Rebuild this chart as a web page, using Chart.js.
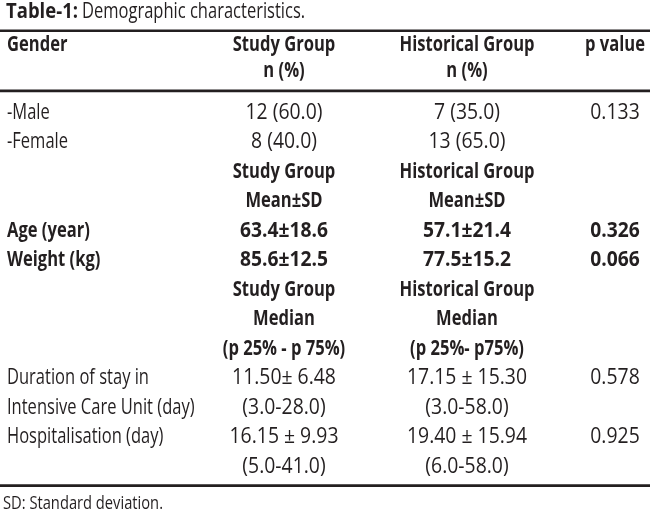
<!DOCTYPE html>
<html>
<head>
<meta charset="utf-8">
<script src="https://cdn.jsdelivr.net/npm/chart.js@4/dist/chart.umd.min.js"></script>
<style>
  html, body { margin: 0; padding: 0; background: #fff; }
  #wrap { width: 650px; height: 518px; }
</style>
</head>
<body>
<div id="wrap"><canvas id="c" width="650" height="518"></canvas></div>
<script>
// ---- Data ----
const titleBold = 'Table-1:';
const titleText = 'Demographic characteristics.';
const footnote = 'SD: Standard deviation.';
const headerRow1 = ['Gender', 'Study Group', 'Historical Group', 'p value'];
const headerRow2 = ['', 'n (%)', 'n (%)', ''];
const rowLabels = ['-Male', '-Female', '', '', 'Age (year)', 'Weight (kg)', '', '', '',
  'Duration of stay in', 'Intensive Care Unit (day)', 'Hospitalisation (day)', ''];
const studyGroup = ['12 (60.0)', '8 (40.0)', 'Study Group', 'Mean\u00B1SD', '63.4\u00B118.6', '85.6\u00B112.5',
  'Study Group', 'Median', '(p 25% - p 75%)', '11.50\u00B1 6.48', '(3.0-28.0)', '16.15 \u00B1 9.93', '(5.0-41.0)'];
const historicalGroup = ['7 (35.0)', '13 (65.0)', 'Historical Group', 'Mean\u00B1SD', '57.1\u00B121.4', '77.5\u00B115.2',
  'Historical Group', 'Median', '(p 25%- p75%)', '17.15 \u00B1 15.30', '(3.0-58.0)', '19.40 \u00B1 15.94', '(6.0-58.0)'];
const pValues = ['0.133', '', '', '', '0.326', '0.066', '', '', '', '0.578', '', '0.925', ''];
const boldRows = [2, 3, 4, 5, 6, 7, 8];

// ---- Layout (kept out of data) ----
const FAMILY = '"Open Sans", "Noto Sans", sans-serif';
const REG = '21px ' + FAMILY;
const BOLD = 'bold 21px ' + FAMILY;
const FOOT = '18px ' + FAMILY;
const INK = '#231f20';
const colAnchors = [7, 284, 467, 615];
const colAlign = ['left', 'center', 'center', 'center'];
const rowPos = { title: -3.42, rule1: -2.78, head1: -2.3, head2: -1.42, rule2: -0.74, rule3: 12.64, foot: 13.25 };
const isNumeric = s => /^[\d(][\d.() \u00B1%-]*$/.test(s);

function txt(ctx, s, x, y, align, font, sx) {
  ctx.save();
  ctx.font = font;
  ctx.textAlign = align;
  ctx.textBaseline = 'middle';
  ctx.translate(x, y);
  ctx.scale(sx, 1);
  ctx.fillText(s, 0, 0);
  ctx.restore();
}
function widthOf(ctx, s, font) { ctx.save(); ctx.font = font; const w = ctx.measureText(s).width; ctx.restore(); return w; }

const tablePlugin = {
  id: 'tablePlugin',
  afterDraw(chart) {
    const ctx = chart.ctx;
    const xs = chart.scales.x, ys = chart.scales.y;
    const X = v => xs.getPixelForValue(v);
    const Y = v => ys.getPixelForValue(v);
    // condensed look: horizontal compression matched to the reference face
    const sxR = 142 / widthOf(ctx, 'Duration of stay in', REG);
    const sxB = 135 / widthOf(ctx, 'Historical Group', BOLD);
    const sxRN = 77 / widthOf(ctx, '12 (60.0)', REG);
    const sxBN = 88 / widthOf(ctx, '63.4\u00B118.6', BOLD);
    const sxF = 160 / widthOf(ctx, footnote, FOOT);
    ctx.save();
    ctx.fillStyle = INK;

    // title
    const tb = 72 / widthOf(ctx, titleBold, BOLD);
    txt(ctx, titleBold, X(6), Y(rowPos.title), 'left', BOLD, tb);
    txt(ctx, titleText, X(82), Y(rowPos.title), 'left', REG, sxR);

    // rules
    ctx.strokeStyle = INK;
    [rowPos.rule1, rowPos.rule2, rowPos.rule3].forEach(r => {
      ctx.lineWidth = 2.6;
      ctx.beginPath();
      ctx.moveTo(X(0), Y(r));
      ctx.lineTo(X(650), Y(r));
      ctx.stroke();
    });

    // header rows
    headerRow1.forEach((t, i) => txt(ctx, t, X(colAnchors[i]), Y(rowPos.head1), colAlign[i], BOLD, sxB));
    headerRow2.forEach((t, i) => { if (t) txt(ctx, t, X(colAnchors[i]), Y(rowPos.head2), colAlign[i], BOLD, sxB); });

    // body
    const cols = [rowLabels, studyGroup, historicalGroup, pValues];
    rowLabels.forEach((_, r) => {
      const bold = boldRows.includes(r);
      cols.forEach((col, c) => {
        const s = col[r];
        if (!s) return;
        const num = c > 0 && isNumeric(s);
        const sx = bold ? (num ? sxBN : sxB) : (num ? sxRN : sxR);
        txt(ctx, s, X(colAnchors[c]), Y(r), colAlign[c], bold ? BOLD : REG, sx);
      });
    });

    // footnote
    txt(ctx, footnote, X(3), Y(rowPos.foot), 'left', FOOT, sxF);
    ctx.restore();
  }
};

new Chart(document.getElementById('c'), {
  type: 'scatter',
  data: { labels: rowLabels.map((_, i) => String(i)), datasets: [{ data: [], showLine: false }] },
  options: {
    responsive: false,
    animation: false,
    devicePixelRatio: 1,
    layout: { padding: { top: 98, bottom: 36.5, left: 0, right: 0 } },
    plugins: { legend: { display: false }, tooltip: { enabled: false }, title: { display: false } },
    scales: {
      x: { type: 'linear', min: 0, max: 650, display: false },
      y: { type: 'category', labels: rowLabels.map((_, i) => String(i)), offset: true, display: false }
    }
  },
  plugins: [tablePlugin]
});
</script>
</body>
</html>
